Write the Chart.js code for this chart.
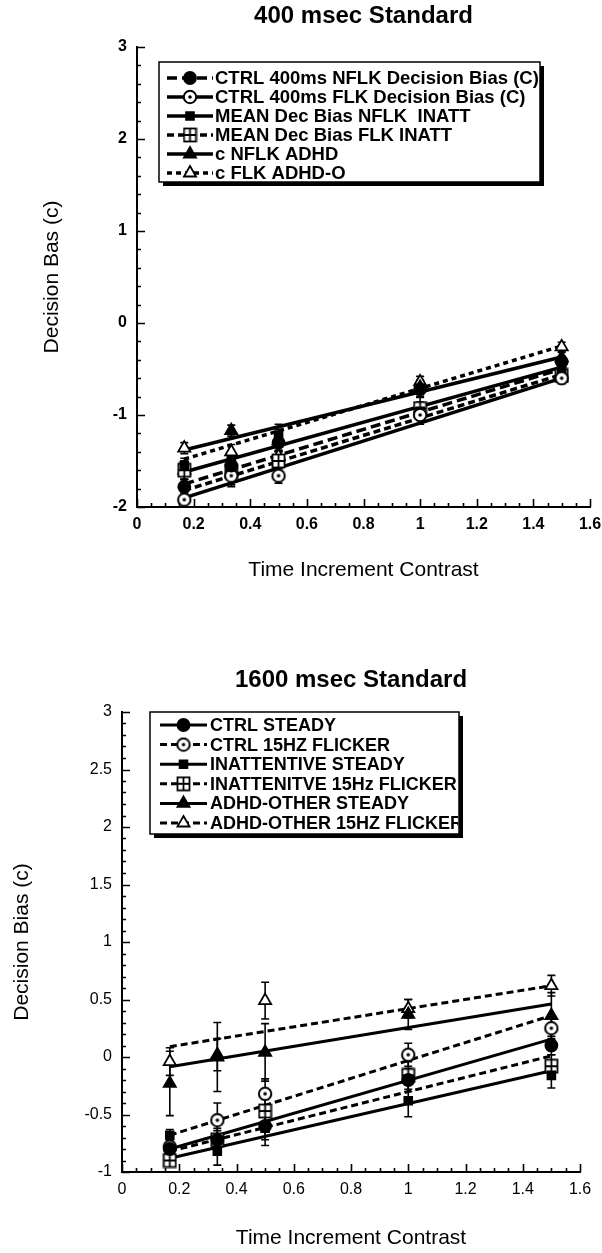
<!DOCTYPE html>
<html>
<head>
<meta charset="utf-8">
<title>Decision bias</title>
<script src="https://cdn.jsdelivr.net/npm/chart.js@4.4.1/dist/chart.umd.min.js"></script>
<style>
  html, body { margin: 0; padding: 0; background: #fff; }
  #page { position: relative; width: 602px; height: 1253px; overflow: hidden; }
  .panel { position: absolute; left: 0; width: 602px; }
</style>
</head>
<body>
<div id="page">
  <div class="panel" style="top:0;height:625px"><canvas id="chart400" width="602" height="625"></canvas></div>
  <div class="panel" style="top:625px;height:628px"><canvas id="chart1600" width="602" height="628"></canvas></div>
</div>
<script>
// Decision bias (c) against time increment contrast, two standards.
// Markers are the group means (with error bars), the lines are the straight
// fits that were drawn through each group, read off at the two end contrasts.

// Contrast levels used in both panels.
var contrast = [0.167, 0.333, 0.5, 1, 1.5];
// Fitted lines run from the first to the last contrast level.
var fitEnds = [0.167, 1.5];

// ---- 400 msec standard ----------------------------------------------------
var labels400 = [
  'CTRL 400ms NFLK Decision Bias (C)',
  'CTRL 400ms FLK Decision Bias (C)',
  'MEAN Dec Bias NFLK  INATT',
  'MEAN Dec Bias FLK INATT',
  'c NFLK ADHD',
  'c FLK ADHD-O'
];
var ctrlNflk400    = [-1.78, -1.55, -1.30, -0.72, -0.42];
var ctrlFlk400     = [-1.92, -1.66, -1.66, -1.00, -0.60];
var inattNflk400   = [-1.55, -1.50, -1.22, -0.96, -0.52];
var inattFlk400    = [-1.60, -1.61, -1.50, -0.93, -0.57];
var adhdNflk400    = [-1.60, -1.17, -1.28, -0.70, -0.38];
var adhdFlk400     = [-1.36, -1.40, -1.45, -0.64, -0.26];
var ctrlNflk400Err  = [0.08, 0.10, 0.08, 0.08, 0.06];
var ctrlFlk400Err   = [0.08, 0.12, 0.08, 0.10, 0.06];
var inattNflk400Err = [0.08, 0.10, 0.12, 0.10, 0.08];
var inattFlk400Err  = [0.10, 0.15, 0.10, 0.12, 0.08];
var adhdNflk400Err  = [0.10, 0.06, 0.12, 0.08, 0.06];
var adhdFlk400Err   = [0.06, 0.08, 0.06, 0.06, 0.05];
var ctrlNflk400Fit  = [-1.75, -0.50];
var ctrlFlk400Fit   = [-1.90, -0.60];
var inattNflk400Fit = [-1.62, -0.48];
var inattFlk400Fit  = [-1.82, -0.56];
var adhdNflk400Fit  = [-1.38, -0.37];
var adhdFlk400Fit   = [-1.48, -0.25];

// ---- 1600 msec standard ---------------------------------------------------
var labels1600 = [
  'CTRL STEADY',
  'CTRL 15HZ FLICKER',
  'INATTENTIVE STEADY',
  'INATTENITVE 15Hz FLICKER',
  'ADHD-OTHER STEADY',
  'ADHD-OTHER 15HZ FLICKER'
];
var ctrlSteady1600    = [-0.80, -0.72, -0.60, -0.20, 0.10];
var ctrlFlicker1600   = [-0.78, -0.55, -0.32, 0.02, 0.25];
var inattSteady1600   = [-0.68, -0.82, -0.62, -0.38, -0.16];
var inattFlicker1600  = [-0.90, -0.72, -0.47, -0.16, -0.08];
var adhdSteady1600    = [-0.23, 0.00, 0.04, 0.37, 0.36];
var adhdFlicker1600   = [-0.04, 0.02, 0.49, 0.42, 0.62];
var ctrlSteady1600Err   = [0.06, 0.10, 0.12, 0.10, 0.08];
var ctrlFlicker1600Err  = [0.06, 0.15, 0.13, 0.10, 0.10];
var inattSteady1600Err  = [0.05, 0.12, 0.15, 0.14, 0.11];
var inattFlicker1600Err = [0.04, 0.08, 0.10, 0.12, 0.10];
var adhdSteady1600Err   = [0.28, 0.30, 0.25, 0.13, 0.20];
var adhdFlicker1600Err  = [0.12, 0.14, 0.16, 0.08, 0.09];
var ctrlSteady1600Fit   = [-0.80, 0.155];
var ctrlFlicker1600Fit  = [-0.68, 0.36];
var inattSteady1600Fit  = [-0.88, -0.12];
var inattFlicker1600Fit = [-0.82, 0.01];
var adhdSteady1600Fit   = [-0.085, 0.46];
var adhdFlicker1600Fit  = [0.09, 0.62];

// ----------------------------------------------------------------------------

var FONT = "'Liberation Sans', Arial, Helvetica, sans-serif";
Chart.defaults.font.family = FONT;
Chart.defaults.color = '#000';

// Open circle with a dot in the middle.
function makeCircleDot() {
  var c = document.createElement('canvas');
  c.width = 16; c.height = 16;
  var g = c.getContext('2d');
  g.beginPath();
  g.arc(8, 8, 6.2, 0, Math.PI * 2);
  g.fillStyle = '#fff';
  g.fill();
  g.lineWidth = 2;
  g.strokeStyle = '#000';
  g.stroke();
  g.beginPath();
  g.arc(8, 8, 1.8, 0, Math.PI * 2);
  g.fillStyle = '#000';
  g.fill();
  return c;
}

// Open square split in four (the "crossed box" marker).
function makeSquareCross() {
  var c = document.createElement('canvas');
  c.width = 15; c.height = 16;
  var g = c.getContext('2d');
  g.fillStyle = '#fff';
  g.fillRect(1, 1, 13, 14);
  g.strokeStyle = '#000';
  g.lineWidth = 1.8;
  g.strokeRect(1.5, 1.5, 12, 13);
  g.beginPath();
  g.moveTo(7.5, 1.5); g.lineTo(7.5, 14.5);
  g.moveTo(1.5, 8); g.lineTo(13.5, 8);
  g.stroke();
  return c;
}

var circleDot = makeCircleDot();
var squareCross = makeSquareCross();

var markers = {
  filledCircle:  { style: 'circle',    radius: 6,   fill: '#000' },
  openCircle:    { style: circleDot,   radius: 6,   fill: '#fff' },
  filledSquare:  { style: 'rect',      radius: 5.5, fill: '#000' },
  crossedSquare: { style: squareCross, radius: 6,   fill: '#fff' },
  filledTri:     { style: 'triangle',  radius: 7,   fill: '#000' },
  openTri:       { style: 'triangle',  radius: 7,   fill: '#fff' }
};

// One group = a fitted line plus its markers with error bars.
function buildDatasets(groups, lineWidth) {
  var sets = [];
  groups.forEach(function(s){
    sets.push({
      type: 'line',
      label: s.label + ' (fit)',
      isFit: true,
      data: fitEnds.map(function(x, k){ return { x: x, y: s.fit[k] }; }),
      borderColor: '#000',
      borderWidth: lineWidth,
      borderDash: s.dash,
      pointRadius: 0,
      fill: false,
      order: 2
    });
    sets.push({
      type: 'scatter',
      label: s.label,
      data: contrast.map(function(x, k){ return { x: x, y: s.values[k] }; }),
      errors: s.errors,
      legendDash: s.dash,
      pointStyle: s.marker.style,
      pointRadius: s.marker.radius,
      pointBackgroundColor: s.marker.fill,
      backgroundColor: s.marker.fill,
      pointBorderColor: '#000',
      borderColor: '#000',
      pointBorderWidth: 1.8,
      showLine: false,
      order: 1
    });
  });
  return sets;
}

// Vertical error bars with caps, drawn under the markers.
var errorBarPlugin = {
  id: 'errorBars',
  beforeDatasetsDraw: function(chart) {
    var ctx = chart.ctx, xs = chart.scales.x, ys = chart.scales.y;
    ctx.save();
    ctx.strokeStyle = '#000';
    ctx.lineWidth = 1.6;
    chart.data.datasets.forEach(function(ds){
      if (!ds.errors) return;
      ds.data.forEach(function(p, k){
        var e = ds.errors[k];
        if (!e) return;
        var px = xs.getPixelForValue(p.x);
        var top = ys.getPixelForValue(p.y + e);
        var bot = ys.getPixelForValue(p.y - e);
        ctx.beginPath();
        ctx.moveTo(px, top); ctx.lineTo(px, bot);
        ctx.moveTo(px - 4, top); ctx.lineTo(px + 4, top);
        ctx.moveTo(px - 4, bot); ctx.lineTo(px + 4, bot);
        ctx.stroke();
      });
    });
    ctx.restore();
  }
};

// Tick marks pointing into the plot, major and minor.
var inwardTicksPlugin = {
  id: 'inwardTicks',
  afterDraw: function(chart, args, opts) {
    var ctx = chart.ctx, xs = chart.scales.x, ys = chart.scales.y, area = chart.chartArea;
    function isMajor(v, step) {
      var r = v / step;
      return Math.abs(r - Math.round(r)) < 1e-6;
    }
    ctx.save();
    ctx.strokeStyle = '#000';
    ctx.lineWidth = 1.6;
    ctx.beginPath();
    var ny = Math.round((ys.max - ys.min) / opts.yMinor);
    for (var i = 0; i <= ny; i++) {
      var vy = ys.min + i * opts.yMinor;
      var py = Math.round(ys.getPixelForValue(vy)) + 0.5;
      ctx.moveTo(area.left, py);
      ctx.lineTo(area.left + (isMajor(vy, opts.yMajor) ? 8 : 4), py);
    }
    var nx = Math.round((xs.max - xs.min) / opts.xMinor);
    for (var j = 0; j <= nx; j++) {
      var vx = xs.min + j * opts.xMinor;
      var px = Math.round(xs.getPixelForValue(vx)) + 0.5;
      ctx.moveTo(px, area.bottom);
      ctx.lineTo(px, area.bottom - (isMajor(vx, opts.xMajor) ? 8 : 4));
    }
    ctx.stroke();
    ctx.restore();
  }
};

// Boxed legend with a drop shadow, placed inside the plot.
var boxLegendPlugin = {
  id: 'boxLegend',
  afterDraw: function(chart, args, opts) {
    var ctx = chart.ctx, b = opts.box;
    var drawPoint = Chart.helpers && Chart.helpers.drawPoint;
    ctx.save();
    ctx.fillStyle = '#000';
    ctx.fillRect(b.left + 4, b.top + 4, b.width, b.height);
    ctx.fillStyle = '#fff';
    ctx.fillRect(b.left, b.top, b.width, b.height);
    ctx.strokeStyle = '#000';
    ctx.lineWidth = 1.5;
    ctx.strokeRect(b.left, b.top, b.width, b.height);
    ctx.beginPath();
    ctx.rect(b.left, b.top, b.width - 1, b.height);
    ctx.clip();

    var rows = chart.data.datasets.filter(function(d){ return !d.isFit; });
    rows.forEach(function(ds, i){
      var y = b.top + opts.firstRow + i * opts.rowGap;
      ctx.strokeStyle = '#000';
      ctx.lineWidth = opts.lineWidth;
      ctx.setLineDash(ds.legendDash);
      ctx.beginPath();
      ctx.moveTo(opts.lineFrom, y);
      ctx.lineTo(opts.lineTo, y);
      ctx.stroke();
      ctx.setLineDash([]);
      if (drawPoint) {
        ctx.fillStyle = ds.pointBackgroundColor;
        ctx.lineWidth = 1.8;
        drawPoint(ctx, { pointStyle: ds.pointStyle, radius: ds.pointRadius, borderWidth: 1.8, rotation: 0 },
          (opts.lineFrom + opts.lineTo) / 2, y);
      }
      ctx.fillStyle = '#000';
      ctx.font = 'bold ' + opts.fontSize + 'px ' + FONT;
      ctx.textBaseline = 'middle';
      ctx.textAlign = 'left';
      ctx.fillText(ds.label, opts.textX, y + 1);
    });
    ctx.restore();
  }
};

function tickText(v) {
  return String(Math.round(v * 100) / 100);
}

function makeChart(canvasId, cfg) {
  return new Chart(document.getElementById(canvasId), {
    type: 'scatter',
    data: { datasets: buildDatasets(cfg.groups, cfg.lineWidth) },
    plugins: [errorBarPlugin, inwardTicksPlugin, boxLegendPlugin],
    options: {
      responsive: false,
      animation: false,
      events: [],
      layout: { padding: { top: 0, left: 0, right: cfg.padRight, bottom: 0 } },
      plugins: {
        legend: { display: false },
        tooltip: { enabled: false },
        title: {
          display: true,
          text: cfg.title,
          fullSize: false,
          color: '#000',
          font: { family: FONT, size: 24, weight: 'bold' },
          padding: cfg.titlePad
        },
        inwardTicks: cfg.ticks,
        boxLegend: cfg.legend
      },
      scales: {
        x: {
          type: 'linear',
          min: 0, max: 1.6,
          grid: { display: false, drawTicks: false },
          border: { display: true, color: '#000', width: 2 },
          ticks: {
            stepSize: 0.2,
            padding: cfg.xTickPad,
            maxRotation: 0,
            autoSkip: false,
            color: '#000',
            font: cfg.tickFont,
            callback: tickText
          },
          title: {
            display: true,
            text: 'Time Increment Contrast',
            color: '#000',
            font: { family: FONT, size: cfg.axisTitleSize },
            padding: { top: 0, bottom: cfg.xTitlePad }
          },
          afterFit: function(scale){
            scale.height = cfg.xHeight;
            scale.paddingLeft = 0;
            scale.paddingRight = 0;
          }
        },
        y: {
          type: 'linear',
          min: cfg.yMin, max: cfg.yMax,
          grid: { display: false, drawTicks: false },
          border: { display: true, color: '#000', width: 2 },
          ticks: {
            stepSize: cfg.yStep,
            padding: 10,
            color: '#000',
            font: cfg.tickFont,
            callback: tickText
          },
          title: {
            display: true,
            text: cfg.yTitle,
            color: '#000',
            font: { family: FONT, size: cfg.axisTitleSize },
            padding: { top: cfg.yTitlePad, bottom: 0 }
          },
          afterFit: function(scale){
            scale.width = cfg.yWidth;
            scale.paddingTop = 0;
            scale.paddingBottom = 0;
          }
        }
      }
    }
  });
}

makeChart('chart400', {
  title: '400 msec Standard',
  yTitle: 'Decision Bas (c)',
  yMin: -2, yMax: 3, yStep: 1,
  padRight: 12,
  titlePad: { top: 2.2, bottom: 16 },
  yWidth: 137,
  xHeight: 118,
  xTickPad: 8,
  xTitlePad: 42,
  yTitlePad: 40,
  axisTitleSize: 21,
  lineWidth: 3.5,
  tickFont: { family: FONT, size: 16, weight: 'bold' },
  ticks: { yMinor: 0.2, yMajor: 1, xMinor: 0.05, xMajor: 0.2 },
  legend: {
    box: { left: 159, top: 62, width: 381, height: 120 },
    firstRow: 16, rowGap: 19, lineWidth: 3.5,
    lineFrom: 167, lineTo: 213, textX: 215, fontSize: 18.5
  },
  groups: [
    { label: labels400[0], values: ctrlNflk400,  errors: ctrlNflk400Err,  fit: ctrlNflk400Fit,  marker: markers.filledCircle,  dash: [10, 5] },
    { label: labels400[1], values: ctrlFlk400,   errors: ctrlFlk400Err,   fit: ctrlFlk400Fit,   marker: markers.openCircle,    dash: [] },
    { label: labels400[2], values: inattNflk400, errors: inattNflk400Err, fit: inattNflk400Fit, marker: markers.filledSquare,  dash: [] },
    { label: labels400[3], values: inattFlk400,  errors: inattFlk400Err,  fit: inattFlk400Fit,  marker: markers.crossedSquare, dash: [7, 4] },
    { label: labels400[4], values: adhdNflk400,  errors: adhdNflk400Err,  fit: adhdNflk400Fit,  marker: markers.filledTri,     dash: [] },
    { label: labels400[5], values: adhdFlk400,   errors: adhdFlk400Err,   fit: adhdFlk400Fit,   marker: markers.openTri,       dash: [5, 4] }
  ]
});

makeChart('chart1600', {
  title: '1600 msec Standard',
  yTitle: 'Decision Bias (c)',
  yMin: -1, yMax: 3, yStep: 0.5,
  padRight: 22,
  titlePad: { top: 40.6, bottom: 17.6 },
  yWidth: 122,
  xHeight: 81,
  xTickPad: 8,
  xTitlePad: 2,
  yTitlePad: 10,
  axisTitleSize: 21,
  lineWidth: 3,
  tickFont: { family: FONT, size: 16 },
  ticks: { yMinor: 0.1, yMajor: 0.5, xMinor: 0.05, xMajor: 0.2 },
  legend: {
    box: { left: 150, top: 87, width: 309, height: 122 },
    firstRow: 13, rowGap: 19.6, lineWidth: 3,
    lineFrom: 160, lineTo: 207, textX: 210, fontSize: 18
  },
  groups: [
    { label: labels1600[0], values: ctrlSteady1600,   errors: ctrlSteady1600Err,   fit: ctrlSteady1600Fit,   marker: markers.filledCircle,  dash: [] },
    { label: labels1600[1], values: ctrlFlicker1600,  errors: ctrlFlicker1600Err,  fit: ctrlFlicker1600Fit,  marker: markers.openCircle,    dash: [7, 4] },
    { label: labels1600[2], values: inattSteady1600,  errors: inattSteady1600Err,  fit: inattSteady1600Fit,  marker: markers.filledSquare,  dash: [] },
    { label: labels1600[3], values: inattFlicker1600, errors: inattFlicker1600Err, fit: inattFlicker1600Fit, marker: markers.crossedSquare, dash: [7, 4] },
    { label: labels1600[4], values: adhdSteady1600,   errors: adhdSteady1600Err,   fit: adhdSteady1600Fit,   marker: markers.filledTri,     dash: [] },
    { label: labels1600[5], values: adhdFlicker1600,  errors: adhdFlicker1600Err,  fit: adhdFlicker1600Fit,  marker: markers.openTri,       dash: [7, 4] }
  ]
});
</script>
</body>
</html>
